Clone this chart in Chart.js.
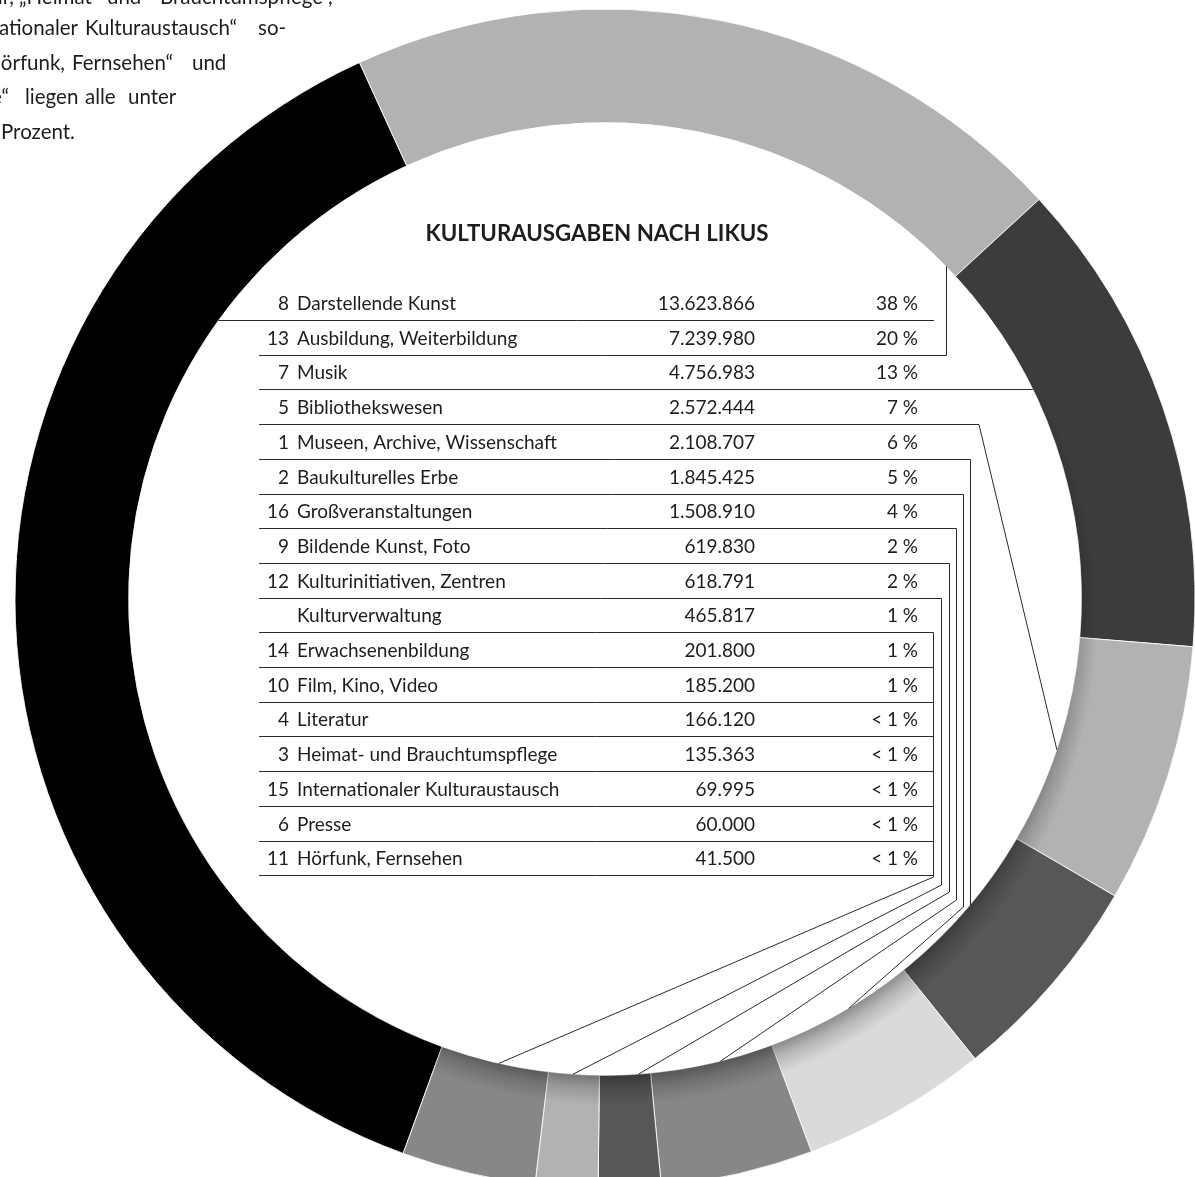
<!DOCTYPE html>
<html lang="de">
<head>
<meta charset="utf-8">
<title>Kulturausgaben nach LIKUS</title>
<script src="https://cdn.jsdelivr.net/npm/chart.js@4.4.1/dist/chart.umd.min.js"></script>
<style>
  html, body { margin: 0; padding: 0; background: #fff; overflow: hidden; }
  #wrap { position: relative; width: 1195px; height: 1200px; }
</style>
</head>
<body>
<div id="wrap"><canvas id="likusChart"></canvas></div>
<script>
// Daten: LIKUS-Kategorien, Ausgaben in Euro
const codes = ["8", "13", "7", "5", "1", "2", "16", "9", "12", "", "14", "10", "4", "3", "15", "6", "11"];
const labels = ["Darstellende Kunst", "Ausbildung, Weiterbildung", "Musik", "Bibliothekswesen",
  "Museen, Archive, Wissenschaft", "Baukulturelles Erbe", "Großveranstaltungen", "Bildende Kunst, Foto",
  "Kulturinitiativen, Zentren", "Kulturverwaltung", "Erwachsenenbildung", "Film, Kino, Video", "Literatur",
  "Heimat- und Brauchtumspflege", "Internationaler Kulturaustausch", "Presse", "Hörfunk, Fernsehen"];
const values = [13623866, 7239980, 4756983, 2572444, 2108707, 1845425, 1508910, 619830, 618791,
  465817, 201800, 185200, 166120, 135363, 69995, 60000, 41500];
const shares = ["38\u202F%", "20\u202F%", "13\u202F%", "7\u202F%", "6\u202F%", "5\u202F%", "4\u202F%", "2\u202F%", "2\u202F%",
  "1\u202F%", "1\u202F%", "1\u202F%", "<\u202F1\u202F%", "<\u202F1\u202F%", "<\u202F1\u202F%", "<\u202F1\u202F%", "<\u202F1\u202F%"];

// im Ring: die ersten 9 einzeln, alles ab Kulturverwaltung als ein Segment
const ringCount = 9;
const ringValues = values.slice(0, ringCount).concat([values.slice(ringCount).reduce((a, b) => a + b, 0)]);
const ringColors = ["#000000", "#b2b2b2", "#3c3c3c", "#b2b2b2", "#575757", "#dadada", "#878787", "#575757", "#b2b2b2", "#878787"];

// Textauszug oben links (Blocksatz, links abgeschnitten): [Wort, x, Grundlinie, Ausrichtung]
const noteWords = [
  ["Literatur,", 14, 4, "right"], ["„Heimat-", 19, 4, "left"], ["und", 107, 4, "left"], ["Brauchtumspflege“,", 160, 4, "left"],
  ["„Internationaler", 78, 35, "right"], ["Kulturaustausch“", 85, 35, "left"], ["so-", 258, 35, "left"],
  ["„Hörfunk,", 65, 70, "right"], ["Fernsehen“", 72, 70, "left"], ["und", 192, 70, "left"],
  ["„Presse“", 9, 104, "right"], ["liegen", 25, 104, "left"], ["alle", 85, 104, "left"], ["unter", 128, 104, "left"],
  ["1", -4, 139, "right"], ["Prozent.", 1, 139, "left"]
];

const FONT = "Lato, 'Open Sans', sans-serif";
const tableTop = 320;   // Linie unter der ersten Zeile
const rowH = 34.7;
const lineLeft = 259;

// Führungslinien: Zeile -> Segment
const leaders = [
  { kind: "left", xEnd: 934 },
  { kind: "up", x: 946 },
  { kind: "right" },
  { kind: "diag", x: 979, f: 0.54 },
  { kind: "down", x: 970 },
  { kind: "bend", x: 963, yb: 907, f: 0.44 },
  { kind: "bend", x: 956, yb: 900, f: 0.43 },
  { kind: "bend", x: 949, yb: 892, f: 0.24 },
  { kind: "bend", x: 941, yb: 885, f: 0.52 },
  { kind: "bend", x: 933, yb: 877, f: 0.46 }
];

const fmt = v => String(v).replace(/\B(?=(\d{3})+(?!\d))/g, ".");
const rowY = i => Math.round(tableTop + i * rowH) + 0.5;

function drawNote(ctx) {
  ctx.font = "20.5px " + FONT;
  ctx.fillStyle = "#1d1d1b";
  ctx.textBaseline = "alphabetic";
  noteWords.forEach(w => {
    ctx.textAlign = w[3];
    ctx.fillText(w[0], w[1], w[2]);
  });
}

function drawTable(ctx) {
  ctx.fillStyle = "#1d1d1b";
  ctx.textBaseline = "alphabetic";
  ctx.font = "bold 22.3px " + FONT;
  ctx.textAlign = "center";
  ctx.fillText("KULTURAUSGABEN NACH LIKUS", 597, 241);

  ctx.font = "19px " + FONT;
  labels.forEach((lab, i) => {
    const y = rowY(i) - 10.5;
    ctx.textAlign = "right";
    ctx.fillText(codes[i], 289, y);
    ctx.fillText(fmt(values[i]), 755, y);
    ctx.fillText(shares[i], 918, y);
    ctx.textAlign = "left";
    ctx.fillText(lab, 297, y);
  });
}

function drawLeaders(ctx, chart) {
  const meta = chart.getDatasetMeta(0);
  const a0 = meta.data[0];
  const cx = a0.x, cy = a0.y, ri = a0.innerRadius;
  const ringAt = (i, f) => {
    const a = meta.data[i];
    const t = a.startAngle + (a.endAngle - a.startAngle) * f;
    return [cx + ri * Math.cos(t), cy + ri * Math.sin(t)];
  };
  const half = d => Math.sqrt(Math.max(ri * ri - d * d, 0));

  ctx.strokeStyle = "#2a2a2a";
  ctx.lineWidth = 1;
  ctx.beginPath();
  leaders.forEach((ld, i) => {
    const y = rowY(i);
    if (ld.kind === "left") {
      ctx.moveTo(cx - half(y - cy), y);
      ctx.lineTo(ld.xEnd, y);
      return;
    }
    ctx.moveTo(lineLeft, y);
    if (ld.kind === "right") {
      ctx.lineTo(cx + half(y - cy), y);
    } else if (ld.kind === "up") {
      ctx.lineTo(ld.x + 0.5, y);
      ctx.lineTo(ld.x + 0.5, cy - half(ld.x - cx));
    } else if (ld.kind === "down") {
      ctx.lineTo(ld.x + 0.5, y);
      ctx.lineTo(ld.x + 0.5, cy + half(ld.x - cx));
    } else if (ld.kind === "diag") {
      const p = ringAt(i, ld.f);
      ctx.lineTo(ld.x, y);
      ctx.lineTo(p[0], p[1]);
    } else {
      const p = ringAt(i, ld.f);
      ctx.lineTo(ld.x + 0.5, y);
      ctx.lineTo(ld.x + 0.5, ld.yb);
      ctx.lineTo(p[0], p[1]);
    }
  });
  // restliche Zeilen hängen an der Linie der Kulturverwaltung
  const xRest = leaders[leaders.length - 1].x + 0.5;
  for (let i = leaders.length; i < labels.length; i++) {
    ctx.moveTo(lineLeft, rowY(i));
    ctx.lineTo(xRest, rowY(i));
  }
  ctx.stroke();
}

const likusPlugin = {
  id: "likusTable",
  afterDatasetsDraw(chart) {
    // Schatten am inneren Rand, unten kräftiger als oben
    const ctx = chart.ctx;
    const a0 = chart.getDatasetMeta(0).data[0];
    const cx = a0.x, cy = a0.y, ri = a0.innerRadius;
    ctx.save();
    ctx.beginPath();
    ctx.arc(cx, cy, a0.outerRadius + 1, 0, Math.PI * 2);
    ctx.arc(cx, cy, ri, 0, Math.PI * 2, true);
    ctx.clip();
    const gx = cx + 6, gy = cy + 20;
    const g = ctx.createRadialGradient(gx, gy, ri - 22, gx, gy, ri + 10);
    g.addColorStop(0, "rgba(0,0,0,0.38)");
    g.addColorStop(0.45, "rgba(0,0,0,0.16)");
    g.addColorStop(1, "rgba(0,0,0,0)");
    ctx.fillStyle = g;
    ctx.fillRect(cx - a0.outerRadius - 5, cy - a0.outerRadius - 5, 2 * a0.outerRadius + 10, 2 * a0.outerRadius + 10);
    ctx.restore();
  },
  afterDraw(chart) {
    const ctx = chart.ctx;
    ctx.save();
    drawNote(ctx);
    drawTable(ctx);
    drawLeaders(ctx, chart);
    ctx.restore();
  }
};

const ctx = document.getElementById("likusChart").getContext("2d");
const likusChart = new Chart(ctx, {
  type: "doughnut",
  data: {
    labels: labels.slice(0, ringCount).concat(["übrige"]),
    datasets: [{
      data: ringValues,
      backgroundColor: ringColors,
      borderColor: "rgba(255,255,255,0.85)",
      borderWidth: 1
    }]
  },
  options: {
    responsive: true,
    maintainAspectRatio: false,
    animation: false,
    events: [],
    rotation: 200,
    radius: 590,
    cutout: 476,
    layout: { padding: { top: 9, left: 15, right: 0, bottom: 11 } },
    plugins: {
      legend: { display: false },
      tooltip: { enabled: false }
    }
  },
  plugins: [likusPlugin]
});
</script>
</body>
</html>
